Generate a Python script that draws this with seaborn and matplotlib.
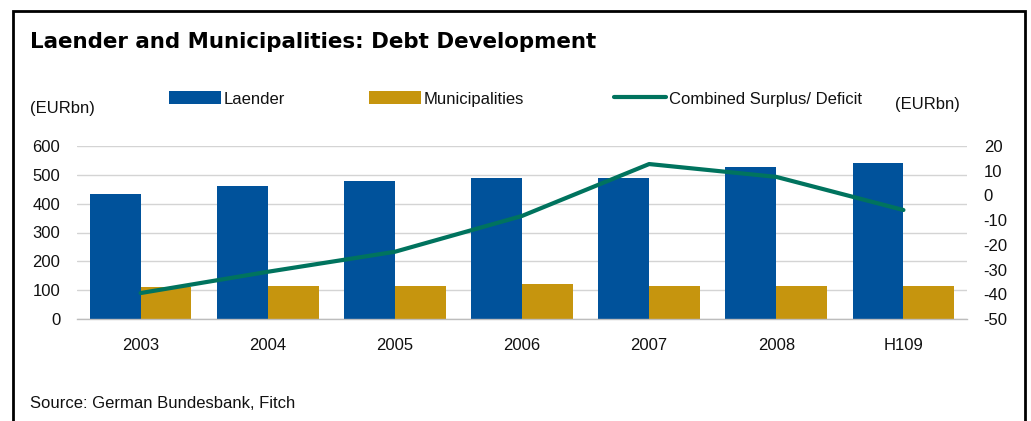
import numpy as np
import pandas as pd
import matplotlib
matplotlib.use("Agg")
import matplotlib.pyplot as plt
from matplotlib.patches import Rectangle, Patch
from matplotlib.lines import Line2D
import seaborn as sns

# Debt levels (EURbn) and combined fiscal balance (EURbn)
periods = ["2003", "2004", "2005", "2006", "2007", "2008", "H109"]
laender = [434, 462, 479, 490, 490, 528, 542]
municipalities = [112, 116, 116, 121, 116, 116, 116]
surplus_deficit = [-39.5, -30.9, -22.8, -8.3, 12.7, 7.5, -5.9]

BLUE = "#00529B"
GOLD = "#C6950E"
TEAL = "#00735E"
GRID = "#d4d4d4"
TXT = "#111111"
FS = 12

sns.set_theme(style="white")
plt.rcParams["font.family"] = ["Liberation Sans", "DejaVu Sans"]
plt.rcParams["axes.unicode_minus"] = False

W, H = 1031, 421
fig = plt.figure(figsize=(W / 100, H / 100), dpi=100)

left, right, top, bottom = 77, 967, 146, 319
ax = fig.add_axes([left / W, 1 - bottom / H, (right - left) / W, (bottom - top) / H])

debt = pd.DataFrame({
    "period": periods * 2,
    "series": ["Laender"] * len(periods) + ["Municipalities"] * len(periods),
    "value": laender + municipalities,
})
sns.barplot(data=debt, x="period", y="value", hue="series", order=periods,
            palette=[BLUE, GOLD], width=0.8, gap=0, saturation=1,
            edgecolor="none", linewidth=0,
            legend=False, ax=ax, zorder=2)

ax.set_xlim(-0.5, len(periods) - 0.5)
ax.set_ylim(0, 600)
ax.set_yticks(range(0, 601, 100))
ax.set_xlabel("")
ax.set_ylabel("")
ax.grid(axis="y", color=GRID, linewidth=1.0, zorder=0)
ax.set_axisbelow(True)
for s in ["top", "left", "right"]:
    ax.spines[s].set_visible(False)
ax.spines["bottom"].set_color("#bdbdbd")
ax.spines["bottom"].set_linewidth(1.0)
ax.tick_params(axis="y", length=0, pad=12, labelsize=FS, labelcolor=TXT)
ax.tick_params(axis="x", which="major", length=0, pad=14, labelsize=FS, labelcolor=TXT)
ax.set_xticks(np.arange(-0.5, len(periods) + 0.5, 1), minor=True)
ax.tick_params(axis="x", which="minor", length=5, width=1, color="#bdbdbd")

ax2 = ax.twinx()
balance = pd.DataFrame({"pos": np.arange(len(periods)), "balance": surplus_deficit})
sns.lineplot(data=balance, x="pos", y="balance", color=TEAL, linewidth=3.0,
             ax=ax2, zorder=3)
ax2.set_ylim(-50, 20)
ax2.set_yticks(range(-50, 21, 10))
ax2.set_xlim(-0.5, len(periods) - 0.5)
ax2.set_ylabel("")
ax2.grid(False)
for s in ["top", "left", "right", "bottom"]:
    ax2.spines[s].set_visible(False)
ax2.tick_params(axis="y", length=0, pad=12, labelsize=FS, labelcolor=TXT)

# Title, units, source
fig.text(30 / W, 1 - 42 / H, "Laender and Municipalities: Debt Development",
         fontsize=15.4, fontweight="bold", family=["DejaVu Sans"],
         ha="left", va="center", color="#000000")
fig.text(30 / W, 1 - 108 / H, "(EURbn)", fontsize=FS, ha="left", va="center", color=TXT)
fig.text(895 / W, 1 - 105 / H, "(EURbn)", fontsize=FS, ha="left", va="center", color=TXT)
fig.text(30 / W, 1 - 404 / H, "Source: German Bundesbank, Fitch", fontsize=FS,
         ha="left", va="center", color=TXT)

# Legend entries placed individually
entries = [
    (Patch(facecolor=BLUE, edgecolor="none"), "Laender", 169),
    (Patch(facecolor=GOLD, edgecolor="none"), "Municipalities", 369),
    (Line2D([], [], color=TEAL, linewidth=3.0), "Combined Surplus/ Deficit", 614),
]
for handle, label, x0 in entries:
    fig.legend([handle], [label], loc="center left",
               bbox_to_anchor=(x0 / W, 1 - 99 / H), frameon=False,
               fontsize=FS, handlelength=3.1, handleheight=0.8,
               handletextpad=0.2, borderpad=0, borderaxespad=0,
               labelcolor=TXT)

# Outer frame
fig.add_artist(Rectangle((13 / W, -0.05), (1025 - 13) / W, 1.05 - 11 / H,
                         transform=fig.transFigure, fill=False,
                         edgecolor="black", linewidth=2.0))

fig.savefig("out.png", dpi=100)
